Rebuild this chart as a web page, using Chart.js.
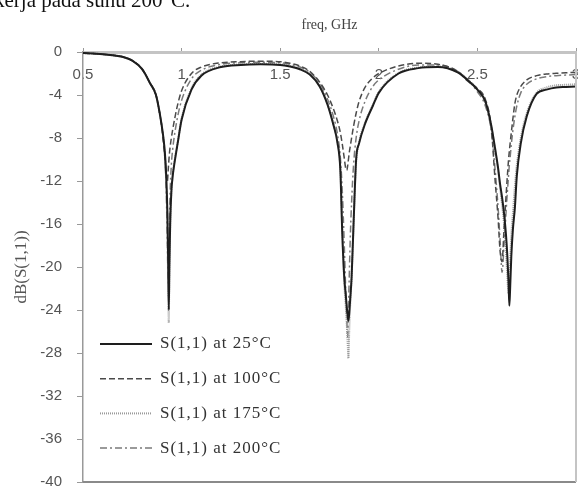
<!DOCTYPE html>
<html>
<head>
<meta charset="utf-8">
<script src="https://cdn.jsdelivr.net/npm/chart.js@4.4.1/dist/chart.umd.min.js"></script>
<style>
  html, body { margin: 0; padding: 0; background: #fff; }
  #wrap { position: relative; width: 578px; height: 494px; overflow: hidden; }
  #s11-chart { display: block; }
  #doc-text { position: absolute; left: -6px; top: -10px; font: 21px "Liberation Serif", serif; line-height: 1; color: #111; white-space: nowrap; }
</style>
</head>
<body>
<div id="wrap">
  <canvas id="s11-chart" width="578" height="494"></canvas>
  <div id="doc-text">kerja pada suhu 200°C.</div>
</div>
<script>
// Frequency grid (GHz), denser around the three resonances
const freqs = [
  0.50, 0.55, 0.60, 0.65, 0.70, 0.75, 0.80, 0.84, 0.87, 0.89,
  0.905, 0.915, 0.922, 0.928, 0.932, 0.935, 0.938, 0.942, 0.948, 0.955,
  0.965, 0.98, 1.00, 1.05, 1.10, 1.20, 1.30, 1.40, 1.50, 1.55,
  1.60, 1.65, 1.70, 1.74, 1.77, 1.79, 1.805, 1.815, 1.825, 1.832,
  1.838, 1.842, 1.846, 1.85, 1.855, 1.862, 1.872, 1.885, 1.90, 1.93,
  1.97, 2.00, 2.10, 2.20, 2.30, 2.40, 2.45, 2.50, 2.54, 2.57,
  2.59, 2.605, 2.615, 2.625, 2.635, 2.645, 2.652, 2.658, 2.662, 2.666,
  2.672, 2.68, 2.69, 2.70, 2.72, 2.75, 2.80, 2.85, 2.90, 2.95,
  3.00
];

// dB(S(1,1)), one list per temperature
const s11At25 = [
  -0.1, -0.15, -0.2, -0.3, -0.45, -0.8, -1.6, -2.9, -4.0, -5.8,
  -7.6, -9.3, -11.5, -15.0, -19.5, -24.0, -20.0, -16.0, -13.0, -11.5,
  -10.2, -8.5, -6.3, -3.5, -2.2, -1.4, -1.2, -1.15, -1.2, -1.35,
  -1.6, -2.1, -3.2, -4.9, -6.8, -8.4, -11.0, -17.0, -21.0, -22.5,
  -23.8, -24.5, -25.0, -24.3, -23.0, -21.0, -16.0, -10.0, -8.5, -6.7,
  -5.0, -3.8, -2.0, -1.5, -1.4, -1.9, -2.6, -3.5, -4.6, -6.8,
  -9.0, -10.8, -12.3, -13.5, -15.0, -17.0, -19.0, -21.5, -23.6, -22.0,
  -19.0, -16.5, -14.5, -11.5, -8.5, -6.0, -3.9, -3.5, -3.3, -3.25,
  -3.2
];
const s11At100 = [
  -0.1, -0.15, -0.2, -0.3, -0.45, -0.8, -1.6, -2.9, -4.0, -5.8,
  -7.8, -9.8, -11.3, -12.0, -11.0, -10.2, -9.5, -8.8, -8.0, -7.2,
  -6.2, -4.9, -3.6, -2.0, -1.4, -1.0, -0.9, -0.85, -0.9, -1.05,
  -1.3, -1.8, -2.8, -4.0, -5.3, -6.4, -7.5, -8.6, -9.9, -10.8,
  -11.0, -10.6, -10.0, -9.4, -8.8, -8.0, -6.9, -5.7, -4.6, -3.3,
  -2.4, -2.0, -1.3, -1.05, -1.15, -1.8, -2.7, -3.4, -4.4, -7.0,
  -12.0, -15.5, -18.5, -19.5, -16.5, -13.5, -11.5, -10.0, -9.2, -8.5,
  -7.5, -6.2, -4.8, -4.0, -3.2, -2.6, -2.2, -2.05, -1.98, -1.93,
  -1.9
];
const s11At175 = [
  -0.1, -0.15, -0.2, -0.3, -0.45, -0.8, -1.6, -2.9, -4.0, -5.8,
  -7.6, -9.5, -12.0, -16.0, -22.0, -25.2, -20.5, -16.5, -13.0, -11.5,
  -10.0, -8.4, -6.2, -3.4, -2.1, -1.35, -1.15, -1.1, -1.15, -1.3,
  -1.55, -2.05, -3.1, -4.8, -6.7, -8.3, -10.8, -16.5, -21.5, -23.5,
  -25.5, -27.0, -28.5, -26.0, -23.5, -21.0, -16.0, -10.3, -8.4, -6.6,
  -4.9, -3.7, -1.95, -1.45, -1.35, -1.85, -2.55, -3.45, -4.6, -6.9,
  -9.2, -11.0, -12.6, -14.2, -16.0, -18.5, -21.0, -22.5, -21.0, -19.5,
  -17.0, -15.0, -12.5, -10.5, -8.0, -5.7, -3.8, -3.3, -3.1, -3.05,
  -3.0
];
const s11At200 = [
  -0.1, -0.15, -0.2, -0.3, -0.45, -0.8, -1.6, -2.9, -4.0, -5.8,
  -7.7, -9.8, -13.0, -18.0, -21.5, -19.0, -16.0, -13.0, -10.5, -9.0,
  -7.6, -6.0, -4.5, -2.5, -1.7, -1.15, -1.0, -0.95, -1.0, -1.15,
  -1.4, -1.9, -2.9, -4.4, -6.0, -7.6, -9.8, -13.0, -18.0, -22.0,
  -25.0, -26.5, -24.0, -21.0, -17.5, -14.0, -10.5, -8.0, -6.4, -4.6,
  -3.2, -2.6, -1.6, -1.2, -1.2, -1.8, -2.6, -3.7, -5.0, -7.3,
  -11.0, -14.5, -17.5, -20.5, -18.0, -15.0, -13.0, -11.5, -10.5, -9.8,
  -8.6, -7.3, -6.0, -5.0, -3.8, -3.0, -2.5, -2.3, -2.2, -2.15,
  -2.1
];

const seriesLabels = ["S(1,1) at 25°C", "S(1,1) at 100°C", "S(1,1) at 175°C", "S(1,1) at 200°C"];
const seriesValues = [s11At25, s11At100, s11At175, s11At200];

// Axis ranges and ticks
const freqMin = 0.5, freqMax = 3, freqStep = 0.5;
const dbMin = -40, dbMax = 0, dbStep = 4;

// Line styles per series
const lineStyles = [
  { color: "#1e1e1e", width: 2, dash: [] },
  { color: "#4a4a4a", width: 1.5, dash: [6, 3] },
  { color: "#9a9a9a", width: 2, dash: [1, 1] },
  { color: "#7a7a7a", width: 1.5, dash: [7, 3, 2, 3] }
];

const toPoints = (values) => values.map((v, i) => ({ x: freqs[i], y: v }));

// Legend drawn inside the plot, lower left
const insideLegend = {
  id: "insideLegend",
  afterDraw(chart) {
    const ctx = chart.ctx;
    const x0 = chart.chartArea.left + 17;
    let y = 344;
    ctx.save();
    chart.data.datasets.forEach((ds) => {
      ctx.beginPath();
      ctx.setLineDash(ds.borderDash || []);
      ctx.strokeStyle = ds.borderColor;
      ctx.lineWidth = ds.borderWidth;
      ctx.moveTo(x0, y);
      ctx.lineTo(x0 + 52, y);
      ctx.stroke();
      ctx.setLineDash([]);
      ctx.fillStyle = "#333";
      ctx.font = '17px "Liberation Serif", serif';
      ctx.letterSpacing = "1px";
      ctx.textBaseline = "middle";
      ctx.fillText(ds.label, x0 + 60, y);
      y += 34.7;
    });
    ctx.restore();
  }
};

// Bottom and right frame lines
const frameLines = {
  id: "frameLines",
  afterDraw(chart) {
    const { ctx, chartArea: a } = chart;
    ctx.save();
    ctx.strokeStyle = "#8a8a8a";
    ctx.lineWidth = 2;
    ctx.beginPath();
    ctx.moveTo(a.left, a.bottom);
    ctx.lineTo(a.right, a.bottom);
    ctx.stroke();
    ctx.strokeStyle = "#c4c4c4";
    ctx.beginPath();
    ctx.moveTo(a.right, a.top);
    ctx.lineTo(a.right, a.bottom);
    ctx.stroke();
    ctx.restore();
  }
};

const ctx = document.getElementById("s11-chart").getContext("2d");
new Chart(ctx, {
  type: "line",
  data: {
    datasets: seriesValues.map((values, i) => ({
      label: seriesLabels[i],
      data: toPoints(values),
      borderColor: lineStyles[i].color,
      borderWidth: lineStyles[i].width,
      borderDash: lineStyles[i].dash,
      pointRadius: 0,
      fill: false,
      cubicInterpolationMode: "monotone"
    }))
  },
  options: {
    responsive: false,
    animation: false,
    layout: { padding: { left: 0, top: 0, right: 2, bottom: 12 } },
    plugins: {
      legend: { display: false },
      tooltip: { enabled: false }
    },
    scales: {
      x: {
        type: "linear",
        position: "top",
        min: freqMin,
        max: freqMax,
        afterFit: (scale) => {
          scale.height = 52;
          scale.paddingLeft = 0;
          scale.paddingRight = 0;
        },
        ticks: {
          stepSize: freqStep,
          mirror: true,
          padding: 14,
          color: "#555",
          font: { family: '"Liberation Sans", sans-serif', size: 15 },
          maxRotation: 0,
          autoSkip: false,
          callback: (v) => String(v)
        },
        grid: { drawOnChartArea: false, tickLength: 4, color: "#999" },
        border: { color: "#c4c4c4", width: 3 },
        title: {
          display: true,
          text: "freq, GHz",
          color: "#444",
          font: { family: '"Liberation Serif", serif', size: 14 },
          padding: { top: 17, bottom: 0 }
        }
      },
      y: {
        type: "linear",
        min: dbMin,
        max: dbMax,
        afterFit: (scale) => {
          scale.width = 83;
          scale.paddingTop = 0;
          scale.paddingBottom = 0;
        },
        ticks: {
          stepSize: dbStep,
          padding: 15,
          color: "#555",
          font: { family: '"Liberation Sans", sans-serif', size: 15 }
        },
        grid: { drawOnChartArea: false, tickLength: 6, color: "#999" },
        border: { color: "#999", width: 1.5 },
        title: {
          display: true,
          text: "dB(S(1,1))",
          color: "#555",
          font: { family: '"Liberation Serif", serif', size: 17 },
          padding: { top: 11, bottom: 0 }
        }
      }
    }
  },
  plugins: [insideLegend, frameLines]
});
</script>
</body>
</html>
